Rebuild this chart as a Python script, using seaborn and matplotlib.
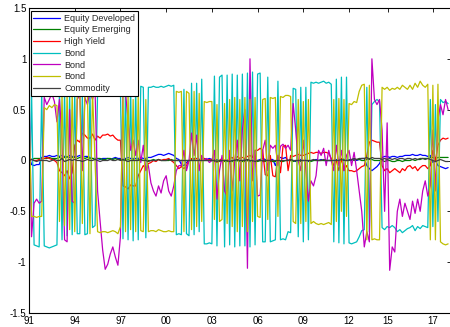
import numpy as np
import pandas as pd
import matplotlib
matplotlib.use("Agg")
import matplotlib.pyplot as plt
import seaborn as sns

# ---- data (bi-monthly samples, Jan 1991 .. Jul 2018) ----
equity_developed = [
    0.05, -0.04, -0.05, -0.04, -0.04, 0.03,   # 1991
    0.04, 0.04, 0.05, 0.04, 0.04, 0.05,       # 1992
    0.04, 0.05, 0.04, 0.03, 0.05, 0.04,       # 1993
    0.04, 0.04, 0.05, 0.03, 0.04, 0.04,       # 1994
    0.03, 0.02, 0.02, 0.02, 0.01, 0.02,       # 1995
    0.02, 0.02, 0.01, 0.02, 0.03, 0.02,       # 1996
    0.02, 0.01, 0.02, 0.03, 0.02, 0.02,       # 1997
    0.02, 0.02, 0.03, 0.02, 0.02, 0.03,       # 1998
    0.03, 0.04, 0.05, 0.06, 0.06, 0.05,       # 1999
    0.06, 0.07, 0.06, 0.05, 0.02, 0.01,       # 2000
    -0.04, -0.05, -0.02, 0.0, 0.01, 0.02,     # 2001
    0.02, 0.01, 0.02, 0.02, 0.01, 0.02,       # 2002
    0.01, 0.0, 0.01, 0.0, -0.01, 0.0,         # 2003
    0.0, -0.01, 0.0, 0.01, 0.0, -0.01,        # 2004
    0.0, 0.01, 0.0, -0.01, 0.0, 0.01,         # 2005
    0.0, 0.01, 0.02, 0.01, 0.0, 0.01,         # 2006
    0.01, -0.05, 0.02, 0.03, 0.02, 0.03,      # 2007
    0.0, 0.01, 0.0, -0.01, 0.0, 0.01,         # 2008
    0.0, 0.0, -0.01, 0.0, 0.0, 0.01,          # 2009
    0.0, 0.01, 0.0, 0.0, 0.0, 0.0,            # 2010
    0.0, 0.01, 0.0, 0.02, 0.01, 0.0,          # 2011
    0.01, 0.0, 0.01, 0.0, 0.01, 0.02,         # 2012
    0.02, -0.05, -0.08, -0.1, -0.08, -0.06,   # 2013
    -0.03, 0.03, 0.04, 0.04, 0.03, 0.04,      # 2014
    0.04, 0.03, 0.04, 0.04, 0.05, 0.05,       # 2015
    0.05, 0.06, 0.05, 0.05, 0.06, 0.05,       # 2016
    0.05, 0.04, 0.05, -0.02, 0.0, -0.05,      # 2017
    -0.06, -0.07, -0.08, -0.07,               # 2018
]
equity_emerging = [
    0.01, 0.01, 0.02, 0.02, 0.02, 0.02,
    0.02, 0.02, 0.03, 0.02, 0.02, 0.02,
    0.03, 0.02, 0.03, 0.04, 0.03, 0.03,
    0.03, 0.02, 0.03, 0.03, 0.02, 0.03,
    0.02, 0.02, 0.01, 0.02, 0.02, 0.01,
    0.01, 0.02, 0.02, 0.01, 0.02, 0.01,
    0.01, 0.0, 0.01, 0.01, 0.0, 0.01,
    0.0, 0.01, 0.0, 0.0, 0.01, 0.0,
    0.0, 0.01, 0.0, 0.01, 0.0, 0.0,
    0.0, 0.0, 0.01, 0.0, 0.0, 0.0,
    0.0, 0.0, 0.0, 0.0, 0.0, 0.0,
    0.0, 0.0, 0.0, 0.0, 0.0, 0.0,
    0.0, -0.01, 0.0, -0.01, 0.0, -0.01,
    -0.01, 0.0, -0.01, -0.01, 0.0, -0.01,
    -0.01, -0.01, 0.0, -0.01, -0.01, 0.0,
    -0.01, 0.0, -0.01, -0.01, 0.0, -0.01,
    -0.01, -0.01, 0.0, -0.01, -0.01, 0.0,
    0.0, 0.0, -0.01, 0.0, 0.0, -0.01,
    0.0, 0.0, 0.0, -0.01, 0.0, 0.0,
    0.0, 0.0, 0.0, 0.0, 0.0, 0.0,
    0.0, 0.0, 0.0, 0.0, 0.01, 0.0,
    0.0, 0.01, 0.0, 0.01, 0.01, 0.0,
    0.0, 0.01, 0.02, 0.01, 0.0, 0.0,
    0.0, 0.0, -0.01, 0.0, 0.0, -0.01,
    -0.01, 0.0, 0.0, -0.01, 0.0, 0.0,
    0.0, 0.01, 0.0, 0.01, 0.01, 0.02,
    0.02, 0.02, 0.03, 0.03, 0.02, 0.03,
    0.03, 0.03, 0.03, 0.03,
]
high_yield = [
    0.02, 0.01, 0.0, 0.0, 0.01, 0.02,
    0.02, 0.03, 0.02, 0.01, 0.0, -0.02,
    -0.1, -0.12, -0.15, -0.1, -0.18, -0.12,
    0.15, 0.2, 0.18, 0.27, 0.25, 0.22,
    0.22, 0.26, 0.2, 0.24, 0.22, 0.25,
    0.25, 0.26, 0.24, 0.25, 0.22, 0.2,
    0.2, -0.25, -0.26, -0.28, -0.24, -0.25,
    -0.25, -0.15, -0.1, -0.05, -0.08, -0.03,
    -0.02, 0.0, -0.01, 0.01, 0.0, 0.01,
    0.01, 0.02, 0.0, -0.02, -0.05, -0.08,
    -0.06, -0.08, -0.05, 0.0, 0.02, 0.01,
    0.02, 0.0, 0.01, 0.02, 0.0, 0.01,
    0.0, 0.01, -0.02, 0.0, 0.02, 0.0,
    0.0, 0.02, 0.03, 0.0, 0.04, 0.02,
    0.03, 0.02, 0.04, 0.05, 0.03, 0.1,
    0.1, 0.12, 0.1, -0.14, -0.15, 0.05,
    -0.15, -0.16, 0.05, -0.12, 0.14, 0.15,
    -0.1, 0.05, 0.04, 0.05, 0.06, 0.05,
    0.05, 0.06, 0.07, 0.08, 0.07, 0.08,
    0.08, 0.07, 0.08, 0.08, 0.07, 0.02,
    -0.05, 0.0, -0.1, 0.02, -0.1, -0.05,
    -0.1, -0.1, -0.11, -0.1, -0.08, -0.06,
    -0.05, 0.05, 0.18, 0.2, 0.19, 0.18,
    0.18, -0.05, -0.1, -0.08, -0.12, -0.1,
    -0.08, -0.1, -0.12, -0.08, -0.1, -0.06,
    -0.05, -0.08, -0.06, -0.1, -0.07, -0.05,
    -0.05, -0.08, -0.05, 0.1, 0.0, 0.15,
    0.2, 0.22, 0.21, 0.22,
]
bond_c = [
    -0.85, 0.7, -0.83, -0.84, -0.85, 0.68,
    -0.84, -0.85, -0.86, -0.85, -0.84, -0.83,
    0.7, -0.78, 0.68, -0.74, 0.66, -0.73,
    0.67, -0.72, -0.72, 0.66, -0.73, -0.72,
    0.66, -0.66, -0.64, 0.67, 0.68, 0.66,
    0.67, 0.68, 0.66, 0.67, 0.68, 0.67,
    0.68, -0.77, 0.72, -0.78, 0.72, -0.79,
    0.72, -0.78, 0.73, 0.72, -0.76, 0.72,
    0.72, 0.73, 0.72, 0.72, 0.73, 0.72,
    0.73, 0.74, 0.73, 0.74, -0.73, -0.72,
    -0.73, 0.7, -0.72, -0.74, 0.76, -0.73,
    0.76, -0.7, 0.8, -0.82, -0.82, -0.81,
    -0.82, 0.83, -0.84, 0.82, 0.84, -0.85,
    0.84, -0.83, 0.85, -0.85, 0.84, -0.84,
    0.85, -0.84, 0.86, -0.85, 0.87, -0.83,
    0.85, 0.86, -0.8, -0.8, 0.82, -0.8,
    -0.79, -0.78, 0.78, -0.78, -0.77, -0.78,
    -0.7, -0.71, 0.71, 0.7, -0.75, 0.72,
    -0.8, 0.72, -0.78, 0.77, 0.76, 0.77,
    0.76, 0.77, 0.78, 0.76, 0.77, 0.75,
    -0.8, 0.8, -0.81, 0.82, -0.82, 0.82,
    -0.81, -0.82, -0.81, -0.8, -0.75, -0.69,
    -0.68, 0.72, -0.7, 0.55, 0.58, 0.6,
    0.58, -0.66, -0.68, -0.65, -0.66, -0.64,
    -0.66, -0.7, -0.68, -0.71, -0.69, -0.67,
    -0.66, -0.64, -0.69, -0.65, -0.67, -0.64,
    -0.65, -0.66, 0.6, -0.65, 0.55, -0.6,
    0.6, 0.57, 0.58, 0.56,
]
bond_m = [
    0.72, -0.75, -0.42, -0.38, -0.42, -0.4,
    0.62, 0.55, 0.6, 0.66, 0.58, 0.38,
    0.6, 0.2, -0.78, -0.8, 0.5, -0.4,
    -0.42, 0.6, 0.65, -0.1, 0.62, 0.55,
    0.68, 0.6, 0.7, -0.3, -0.6, -0.88,
    -1.07, -1.02, -0.92, -0.85, -0.95, -1.03,
    -0.75, 0.68, 0.66, 0.4, 0.1, 0.2,
    0.05, 0.2, -0.02, 0.15, -0.1, -0.05,
    -0.22, -0.3, -0.35, -0.25, -0.32, -0.2,
    -0.15, -0.3, -0.35, -0.25, -0.1, -0.05,
    -0.05, 0.1, -0.1, 0.0, 0.27, 0.05,
    0.25, -0.1, 0.05, 0.0, 0.02, -0.02,
    0.0, 0.1, -0.38, -0.1, 0.05, -0.3,
    -0.35, 0.1, -0.3, 0.0, 0.2, -0.2,
    0.3, 0.5, -1.06, 1.0, -0.2, 0.1,
    -0.35, -0.34, 0.1, 0.2, -0.1, 0.15,
    0.12, 0.15, -0.05, 0.14, 0.16, 0.12,
    0.15, 0.1, 0.56, 0.3, 0.0, -0.1,
    0.2, -0.1, -0.4, -0.2, -0.25, -0.15,
    0.1, 0.05, 0.12, -0.05, 0.1, 0.0,
    -0.1, 0.15, -0.05, 0.1, -0.1, 0.05,
    0.1, -0.05, 0.08, -0.1, -0.3, -0.5,
    -0.85, -0.7, -0.8, 1.0, 0.6, 0.55,
    0.6, 0.3, -0.5, 0.37, -1.08, -0.85,
    -0.9, -0.5, -0.38, -0.55, -0.42, -0.5,
    -0.58, -0.4, -0.52, -0.38, -0.5, -0.3,
    -0.2, -0.35, -0.25, 0.3, -0.3, 0.4,
    0.55, 0.45, 0.6, 0.5,
]
bond_y = [
    0.5, -0.55, -0.55, -0.56, -0.55, -0.55,
    0.52, 0.5, 0.54, 0.52, 0.55, 0.54,
    -0.6, 0.66, -0.64, 0.67, -0.68, 0.68,
    -0.7, 0.68, 0.67, -0.62, 0.68, 0.67,
    -0.72, 0.68, 0.0, -0.7, -0.71, -0.7,
    -0.7, -0.71, -0.7, -0.69, -0.7, -0.72,
    -0.65, 0.62, -0.7, 0.66, -0.68, 0.6,
    -0.7, 0.64, -0.69, -0.7, 0.6, -0.7,
    -0.69, -0.69, -0.7, -0.68, -0.69, -0.7,
    -0.7, -0.69, -0.7, -0.7, 0.68, 0.67,
    0.68, -0.7, 0.68, 0.66, -0.68, 0.68,
    -0.65, 0.66, -0.6, 0.58, 0.57, 0.58,
    0.58, -0.58, 0.55, -0.6, -0.58, 0.56,
    -0.62, 0.6, -0.65, 0.62, -0.7, 0.6,
    -0.65, 0.62, -0.7, 0.6, -0.6, 0.62,
    -0.55, -0.56, 0.6, 0.61, -0.58, 0.62,
    0.61, 0.62, -0.55, 0.63, 0.62, 0.64,
    0.64, 0.63, -0.6, -0.62, 0.6, -0.62,
    0.58, -0.6, 0.6, -0.62, -0.6, -0.62,
    -0.63, -0.62, -0.63, -0.62, -0.61, -0.63,
    0.6, -0.6, 0.61, -0.5, 0.6, -0.55,
    0.56, 0.55, 0.58, 0.57, 0.68, 0.74,
    0.75, -0.78, 0.74, -0.78, -0.77, -0.78,
    -0.78, 0.72, 0.7, 0.72, 0.69, 0.71,
    0.7, 0.72, 0.7, 0.74, 0.72, 0.7,
    0.74, 0.7, 0.76, 0.72, 0.78, 0.74,
    0.72, 0.75, -0.78, 0.74, -0.78, 0.75,
    -0.8, -0.82, -0.83, -0.82,
]
commodity = [
    0.0, 0.01, 0.0, -0.01, 0.0, 0.0,
    0.0, 0.0, -0.01, 0.0, 0.01, 0.0,
    0.0, 0.02, -0.01, 0.0, 0.01, 0.0,
    0.01, 0.0, 0.0, -0.01, 0.0, 0.01,
    0.0, 0.0, 0.01, 0.0, -0.01, 0.0,
    0.0, 0.0, 0.01, 0.0, 0.0, 0.01,
    0.0, 0.01, 0.0, -0.01, 0.0, 0.0,
    0.0, 0.0, 0.01, 0.0, 0.0, -0.01,
    0.0, 0.0, 0.0, 0.01, 0.0, 0.0,
    0.0, 0.01, 0.0, 0.0, 0.0, 0.0,
    0.0, 0.0, 0.0, 0.0, 0.0, 0.0,
    0.0, 0.0, 0.0, 0.0, 0.0, 0.0,
    0.0, 0.0, -0.01, 0.0, 0.0, 0.0,
    0.0, -0.01, 0.0, 0.0, 0.01, 0.0,
    0.0, 0.0, 0.01, 0.0, 0.0, -0.01,
    0.0, 0.0, 0.0, 0.0, 0.0, 0.0,
    0.0, 0.0, 0.0, 0.0, 0.0, 0.0,
    0.0, 0.01, 0.0, 0.0, 0.0, 0.0,
    0.0, 0.0, 0.0, 0.0, 0.01, 0.0,
    0.0, 0.0, 0.01, 0.0, 0.0, 0.0,
    0.0, 0.0, 0.0, 0.01, 0.0, 0.0,
    0.0, 0.01, 0.02, 0.01, 0.02, 0.02,
    0.02, 0.03, 0.01, 0.03, 0.02, 0.02,
    0.02, 0.01, 0.02, 0.01, 0.02, 0.01,
    0.02, 0.01, 0.02, 0.02, 0.01, 0.02,
    0.02, 0.01, 0.02, 0.01, 0.02, 0.02,
    0.01, 0.02, 0.01, 0.0, -0.01, 0.0,
    0.01, 0.0, -0.01, -0.01,
]

series_names = ["Equity Developed", "Equity Emerging", "High Yield",
                "Bond", "Bond", "Bond", "Commodity"]
series_values = [equity_developed, equity_emerging, high_yield,
                 bond_c, bond_m, bond_y, commodity]
series_colors = ["#0000ff", "#008000", "#ff0000", "#00bfbf",
                 "#bf00bf", "#bfbf00", "#404040"]

years = 1991 + np.arange(len(bond_c)) / 6.0

xtick_pos = [1991, 1994, 1997, 2000, 2003, 2006, 2009, 2012, 2014.56, 2017.51]
xtick_labels = ["91", "94", "97", "00", "03", "06", "09", "12", "15", "17"]
ytick_pos = [-1.5, -1, -0.5, 0, 0.5, 1, 1.5]
ytick_labels = ["-1.5", "-1", "-0.5", "0", "0.5", "1", "1.5"]

# ---- plotting ----
sns.set_style("white")
plt.rcParams["font.family"] = ["Liberation Sans", "DejaVu Sans"]

fig = plt.figure(figsize=(4.5, 3.27), dpi=100)
ax = fig.add_axes([29 / 450, 14 / 327, 422 / 450, 305 / 327])

for name, vals, col in zip(series_names, series_values, series_colors):
    df = pd.DataFrame({"year": years, "value": vals})
    sns.lineplot(data=df, x="year", y="value", color=col, label=name,
                 linewidth=0.9, ax=ax, sort=False, estimator=None)

ax.set_xlim(1991, 2018.69)
ax.set_ylim(-1.5, 1.5)
ax.set_xticks(xtick_pos)
ax.set_xticklabels(xtick_labels)
ax.set_yticks(ytick_pos)
ax.set_yticklabels(ytick_labels)
ax.set_xlabel("")
ax.set_ylabel("")
ax.tick_params(direction="in", top=True, right=True, length=3, width=0.6,
               labelsize=7, pad=2, colors="black")
for sp in ax.spines.values():
    sp.set_color("black")
    sp.set_linewidth(0.8)

leg = ax.legend(loc="upper left", bbox_to_anchor=(0.004, 0.99), fontsize=6.5,
                frameon=True, fancybox=False, framealpha=1, edgecolor="black",
                handlelength=3.0, handletextpad=0.4, labelspacing=0.3,
                borderpad=0.3, borderaxespad=0.0)
leg.get_frame().set_linewidth(0.8)
for line in leg.get_lines():
    line.set_linewidth(0.9)

fig.savefig("out.png", dpi=100)
